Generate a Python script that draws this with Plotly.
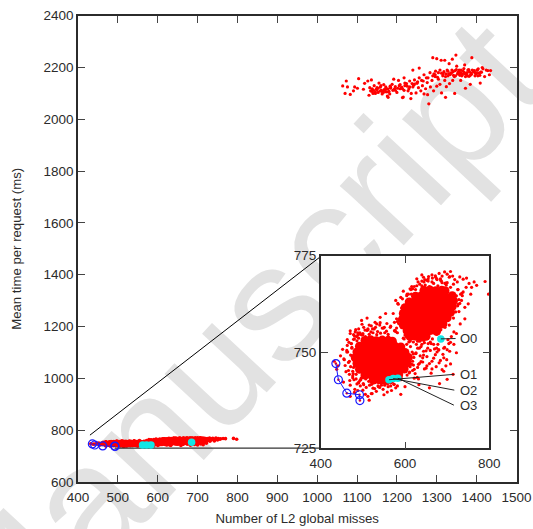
import plotly.graph_objects as go

W, H = 533, 529
FONT = "Liberation Sans"
INK = "#2b2b2b"

x_ticks = list(range(400, 1501, 100))
y_ticks = list(range(600, 2401, 200))
inset_x_ticks = [400, 600, 800]
inset_y_ticks = [725, 750, 775]

upper_x = [1064,1073,1076,1070,1083,1091,1094,1101,1104,1116,1119,1127,1136,1130,1134,1138,1141,1146,1150,1155,1160,1163,1168,1172,1176,1180,1184,1188,1192,1196,1200,
 1204,1208,1212,1216,1220,1224,1228,1232,1236,1240,1244,1248,1252,1256,1260,1264,1268,1272,1276,1280,1284,1288,1292,1296,1300,1304,1308,1312,1316,1320,1324,1328,1332,
 1336,1340,1344,1348,1352,1356,1360,1364,1368,1372,1376,1380,1384,1388,1392,1396,1400,1404,1408,1412,1416,1420,1424,1428,1432,1435,
 1290,1300,1311,1320,1331,1339,1350,1370,1240,1162,1178,1214,1235,1251,1218,1277,1322,1345,1360,1363,1372,1384,1409,
 1296,1304,1315,1323,1328,1335,1342,1346,1353,1358,1366,1371,1377,1382,1387,1393,1398,1403,1297,1308,1318,1326,1333,1341,1349,1356,1361,1369,1375,1381,1389,1396,1401,1406,
 1293,1302,1312,1322,1330,1338,1347,1355,1363,1370,1378,1386,1394,1402,1410,1414,1283,1274,1268,1262,1256,1250,1244,1238,1232,1226,1220,1214,1208,1202,1196,1190,1184,1178,1172,1166,
 1158,1152,1146,1170,1182,1194,1206,1218,1230,1242,1254,1266,1278,1290,
 1132,1137,1143,1148,1153,1158,1161,1167,1173,1177,1183,1140,1150,1165]
upper_y = [2129,2148,2125,2100,2096,2110,2125,2120,2157,2116,2139,2148,2152,2093,2110,2118,2112,2105,2122,2140,2130,2098,2115,2125,2090,2108,2120,2135,2155,2112,2104,
 2150,2118,2124,2086,2130,2138,2110,2125,2100,2125,2136,2102,2145,2198,2110,2130,2098,2118,2142,2060,2125,2150,2110,2165,2128,2155,2135,2102,2175,2150,2126,2168,2138,
 2178,2150,2165,2248,2175,2190,2180,2172,2196,2165,2180,2192,2170,2238,2184,2168,2178,2195,2170,2182,2195,2165,2190,2188,2172,2188,
 2238,2234,2228,2228,2215,2232,2205,2210,2190,2108,2085,2084,2080,2140,2160,2095,2085,2100,2150,2175,2120,2135,2140,
 2172,2180,2168,2176,2186,2178,2170,2188,2180,2170,2186,2176,2168,2184,2174,2186,2176,2168,2186,2190,2184,2190,2172,2184,2192,2176,2190,2180,2172,2166,2190,2180,2190,2178,
 2176,2162,2178,2165,2176,2190,2168,2184,2168,2178,2190,2178,2188,2190,2182,2200,2180,2160,2172,2150,2160,2140,2152,2138,2148,2128,2140,2118,2134,2120,2126,2112,2124,2106,2118,2104,
 2110,2120,2100,2112,2098,2118,2130,2112,2118,2132,2122,2148,2160,2168,
 2122,2108,2130,2116,2104,2124,2112,2134,2106,2118,2128,2100,2114,2108]

core_x = [505,518,532,546,560,570,
 492,506,520,534,548,562,576,590,
 486,500,514,528,542,556,570,584,600,
 482,496,510,524,538,552,566,580,594,608,
 486,500,514,528,542,556,570,584,598,605,
 492,506,520,534,548,562,576,590,598,
 505,519,533,547,561,575,585,
 525,539,553,565,
 645,659,673,687,695,
 625,639,653,667,681,695,712,
 610,624,638,652,666,680,694,708,715,
 600,614,628,642,656,670,684,698,712,
 596,610,624,638,652,666,680,694,708,
 594,608,622,636,650,664,678,692,700,
 596,610,624,638,652,666,680,690,
 605,619,633,647,661,675,
 612,626,640,650]
core_y = [753.0,753.2,752.9,753.1,753.0,752.8,
 751.5,751.6,751.4,751.5,751.6,751.4,751.5,751.3,
 750.0,750.1,749.9,750.0,750.1,749.9,750.0,750.1,749.9,
 748.5,748.6,748.4,748.5,748.6,748.4,748.5,748.6,748.4,748.6,
 747.0,747.1,746.9,747.0,747.1,746.9,747.0,747.1,746.9,747.2,
 745.5,745.6,745.4,745.5,745.6,745.4,745.5,745.6,745.6,
 744.0,744.1,743.9,744.0,744.1,743.9,744.1,
 742.7,742.8,742.6,742.8,
 766.0,766.1,765.9,766.0,765.9,
 764.5,764.6,764.4,764.5,764.6,764.4,764.6,
 763.0,763.1,762.9,763.0,763.1,762.9,763.0,763.1,763.3,
 761.5,761.6,761.4,761.5,761.6,761.4,761.5,761.6,761.8,
 760.0,760.1,759.9,760.0,760.1,759.9,760.0,760.1,760.3,
 758.5,758.6,758.4,758.5,758.6,758.4,758.5,758.6,758.9,
 757.0,757.1,756.9,757.0,757.1,756.9,757.0,757.3,
 755.5,755.6,755.4,755.5,755.6,755.4,
 754.0,754.1,753.9,754.1]

fringe_x = [432,438,441,447,452,456,460,463,467,471,476,479,470,454,481,488,494,500,506,512,520,528,537,545,552,560,478,470,463,474,483,490,498,505,515,497,510,523,533,
 541,551,566,575,582,590,599,606,612,620,627,470,480,486,493,501,515,522,550,560,568,578,590,605,622,630,638,486,500,529,541,554,
 572,583,594,605,612,622,631,640,647,655,664,673,681,688,694,700,708,713,718,724,730,738,746,752,758,764,770,790,798,
 560,570,578,586,596,604,612,618,626,634,642,652,662,672,680,692,700,708,716,722,731,742,750,756,
 590,602,611,622,633,646,658,664,682,692,700,708,714,722,640,650,630,620,610,600,590,632,644,660,675,694,710,726,736,
 455,462,468,474,458,466,472,478,464,470,476,484,490,496,502,508,516,524,532,540,548,558,566,574,582,590,480,488,494,502,512,600,610,618,626,634,642,650,
 575,585,595,605,615,625,635,645,655,665,675,685,695,705,715,725,735,745,580,592,604,616,628,640,668,680,692,704,716,728,
 462,468,473,478,466,471,476,469,474,480,484,488,477,482,490,495,501,507,514,521,529,536,544,551,559,567,574,583,591,485,493,500,510,519,527,535,546,556,565,576,
 490,498,506,515,524,533,542,552,560,512,520,530,540,549,557,603,609,613,617,621,606,612,618,624,629,620,627,634,610,616,
 630,638,646,654,662,670,678,686,694,702,626,636,644,652,660,668,676,684,690,699,706,620,632,642,650,658,664,674,681,688,697,
 580,586,592,584,590,596,582,588,578,598,604,600,610,616,625,635,645,655,665,675,685,695,705,715,720,725,728,732,722,726,730,734,738,742,
 648,658,668,678,688,698,708,640,652,664,676,686,696,618,628,608,614,644,656,672,684,700,706]
fringe_y = [747.6,745.5,746.4,749,750.7,748,744.9,751.7,752.5,746.2,743.3,742.8,741.4,742.2,740.3,740,741.2,740.1,739,738.5,739.2,740.5,741,742,741.4,742.2,754.5,755.5,753.2,749,755.8,756,757.2,755.7,757,758.2,758.8,756,757.3,
 757.6,756.4,756.7,757.7,757.9,759,761,758.8,760.4,761.7,763,738.5,739.5,741.7,742.6,743.5,737.5,739.2,738.9,741,740,740.7,742.8,744,745.5,746,747.5,752.9,754.5,757.7,759,760,
 760,762.6,763.8,765,766.4,767,768.2,767.2,768.8,769,770,769.4,770.4,769.7,770.8,770.2,770.9,769.7,768.8,768.2,769.5,768.9,769.2,767.8,766.8,768.2,767.3,768.3,765,
 754,752.5,755.3,751.3,753.6,750.2,752.8,747.6,749.8,747,748.5,746.4,744.5,749.3,750.5,748.5,750.6,752.5,752,754.8,757.3,758.6,762.5,765,
 746,748.6,744.8,743.2,741.5,745.6,740.7,747.6,741.8,745,742.9,746.9,744.2,749.8,752,750.3,751,749.5,744.6,741,739,743,749.2,752.6,751,756.8,754,762.4,764.6,
 748.2,750,744.2,751.2,746.5,747.3,752.2,753.3,750,754.8,745,744.2,742.1,743.2,741.5,740.8,741.4,740.6,739.8,740.8,740.3,739.6,741.2,741.6,741.2,743.6,754.2,755,754.6,756.4,756,757,756.6,758.4,757.2,759.6,760.6,762.2,
 755.5,757.4,760.2,763.2,765,766.2,767.6,768.2,768.4,769.2,769,768.6,767.8,769.4,767.6,766.2,765.2,766.8,758.6,761.4,764.6,767,769,770,752,750.6,751,752.2,755.2,760.5,
 750.4,747.6,752.2,746,745.2,749.2,743.8,742.6,751,753.4,743,754.4,744.4,755.2,742,742.8,741.8,743,742.4,741.6,742.2,741.2,741.4,742.4,741.8,742.6,741.6,743.5,743.2,754,755,754.8,755.6,755.2,756,755.3,756.2,755.4,756.4,755.6,
 753.6,754.4,754,754.6,755,754.5,754.9,755,754.6,755.8,756.8,756.4,757,756.2,757.4,754,752.6,751.4,750,748.6,747.4,746.2,745.2,744.4,743.4,752.6,752,751,749.2,746.8,
 752.8,751.4,752.4,751,752.2,750.8,752,753,751.2,753.2,749.6,749,750.2,748.8,750.4,748.4,750,747.8,749.4,748,750.2,746.6,746.8,747.4,745.8,747,745.6,746.2,747.2,745.4,746.4,
 756.2,758.4,760.6,762.4,764.2,765.8,755,757.2,763.4,753.4,752,754.4,755.2,755.5,753.7,752.8,753,752.2,753.4,754.6,755.8,756.4,757,758.8,760.4,762,763.6,765,764.6,766.2,762.6,763.4,765.6,761.6,
 767.4,767,767.8,767.2,768,767.4,766.8,768.4,768.6,768.2,768.8,768.4,767.9,766.4,767.2,765,766.2,769.4,769.6,769.8,769,768,769.6]

blue_x = [436,442,462,492,493]
blue_y = [747.0,742.8,739.3,738.9,737.4]
optima_x = [685,562,572,583]
optima_y = [753.4,742.8,743.1,743.2]
opt_labels = ["O0","O1","O2","O3"]
label_y = [753.5,744.2,740.1,736.2]
line_end_x = [720,717,717,716]
connector_top_x = [430,1010]
connector_top_y = [781,1472]
connector_low_x = [492,1010]
connector_low_y = [731,731]

band_x = core_x + fringe_x
band_y = core_y + fringe_y

fig = go.Figure()
RED = "#ff0000"
CYAN = "#12e6e6"
BLUE = "#1a1aff"

fig.add_trace(go.Scatter(x=upper_x, y=upper_y, mode="markers", marker=dict(color=RED, size=3.2)))
fig.add_trace(go.Scatter(x=band_x, y=band_y, mode="markers", marker=dict(color=RED, size=3.6)))
fig.add_trace(go.Scatter(x=connector_top_x, y=connector_top_y, mode="lines", line=dict(color="black", width=1)))
fig.add_trace(go.Scatter(x=connector_low_x, y=connector_low_y, mode="lines", line=dict(color="#333333", width=1.2)))
fig.add_trace(go.Scatter(x=blue_x, y=blue_y, mode="lines+markers", line=dict(color=BLUE, width=1),
                         marker=dict(size=8, color="rgba(0,0,0,0)", line=dict(color=BLUE, width=1.2))))
fig.add_trace(go.Scatter(x=optima_x, y=optima_y, mode="markers", marker=dict(color=CYAN, size=7.5)))

ix = dict(xaxis="x2", yaxis="y2")
fig.add_trace(go.Scatter(x=core_x, y=core_y, mode="markers", marker=dict(color=RED, size=9), **ix))
fig.add_trace(go.Scatter(x=fringe_x, y=fringe_y, mode="markers", marker=dict(color=RED, size=3.2), **ix))
fig.add_trace(go.Scatter(x=blue_x, y=blue_y, mode="markers", marker=dict(color=RED, size=2.5), **ix))
fig.add_trace(go.Scatter(x=blue_x, y=blue_y, mode="lines+markers", line=dict(color=BLUE, width=1),
                         marker=dict(size=8, color="rgba(0,0,0,0)", line=dict(color=BLUE, width=1.2)), **ix))
fig.add_trace(go.Scatter(x=optima_x, y=optima_y, mode="markers", marker=dict(color=CYAN, size=7.5), **ix))
for ox, oy, ex, ly in zip(optima_x, optima_y, line_end_x, label_y):
    fig.add_trace(go.Scatter(x=[ox, ex], y=[oy, ly], mode="lines", line=dict(color="#222222", width=1), **ix))

annotations = [dict(text=t, x=726, y=ly, xref="x2", yref="y2", xanchor="left", yanchor="middle", showarrow=False,
                    font=dict(family=FONT, size=13, color=INK)) for t, ly in zip(opt_labels, label_y)]

ax = dict(showgrid=False, zeroline=False, ticks="inside", ticklen=7, tickwidth=1.2, tickcolor="#444444",
          showline=True, linecolor=INK, linewidth=1.6, mirror="ticks", automargin=False,
          tickfont=dict(family=FONT, size=13.5, color=INK))

fig.update_layout(
    width=W, height=H, autosize=False, showlegend=False,
    paper_bgcolor="white", plot_bgcolor="white",
    margin=dict(l=0, r=0, t=0, b=0),
    xaxis=dict(ax, domain=[78/W, 516.5/W], range=[400, 1500], tickvals=x_ticks, ticklabelstandoff=2,
               title=dict(text="Number of L2 global misses", font=dict(family=FONT, size=13.2, color=INK), standoff=10)),
    yaxis=dict(ax, domain=[1-482/H, 1-15.7/H], range=[600, 2400], tickvals=y_ticks,
               title=dict(text="Mean time per request (ms)", font=dict(family=FONT, size=13.2, color=INK), standoff=19)),
    xaxis2=dict(ax, domain=[320.7/W, 489.3/W], range=[400, 800], tickvals=inset_x_ticks, anchor="y2", ticklabelstandoff=2),
    yaxis2=dict(ax, domain=[1-448.3/H, 1-255.7/H], range=[725, 775], tickvals=inset_y_ticks, anchor="x2"),
    annotations=annotations,
    shapes=[dict(type="line", xref="paper", yref="paper", x0=0.12, y0=0.074, x1=0.72, y1=0.674,
                 layer="below", line=dict(color="rgba(0,0,0,0)", width=0),
                 label=dict(text="Manuscript", textangle=-47, textposition="middle", yanchor="middle",
                            font=dict(family=FONT, size=165, color="#e2e2e2")))],
)

fig.write_html("out.html", config={"displayModeBar": False},
               post_script="document.body.style.margin='0';document.body.style.overflow='hidden';")
